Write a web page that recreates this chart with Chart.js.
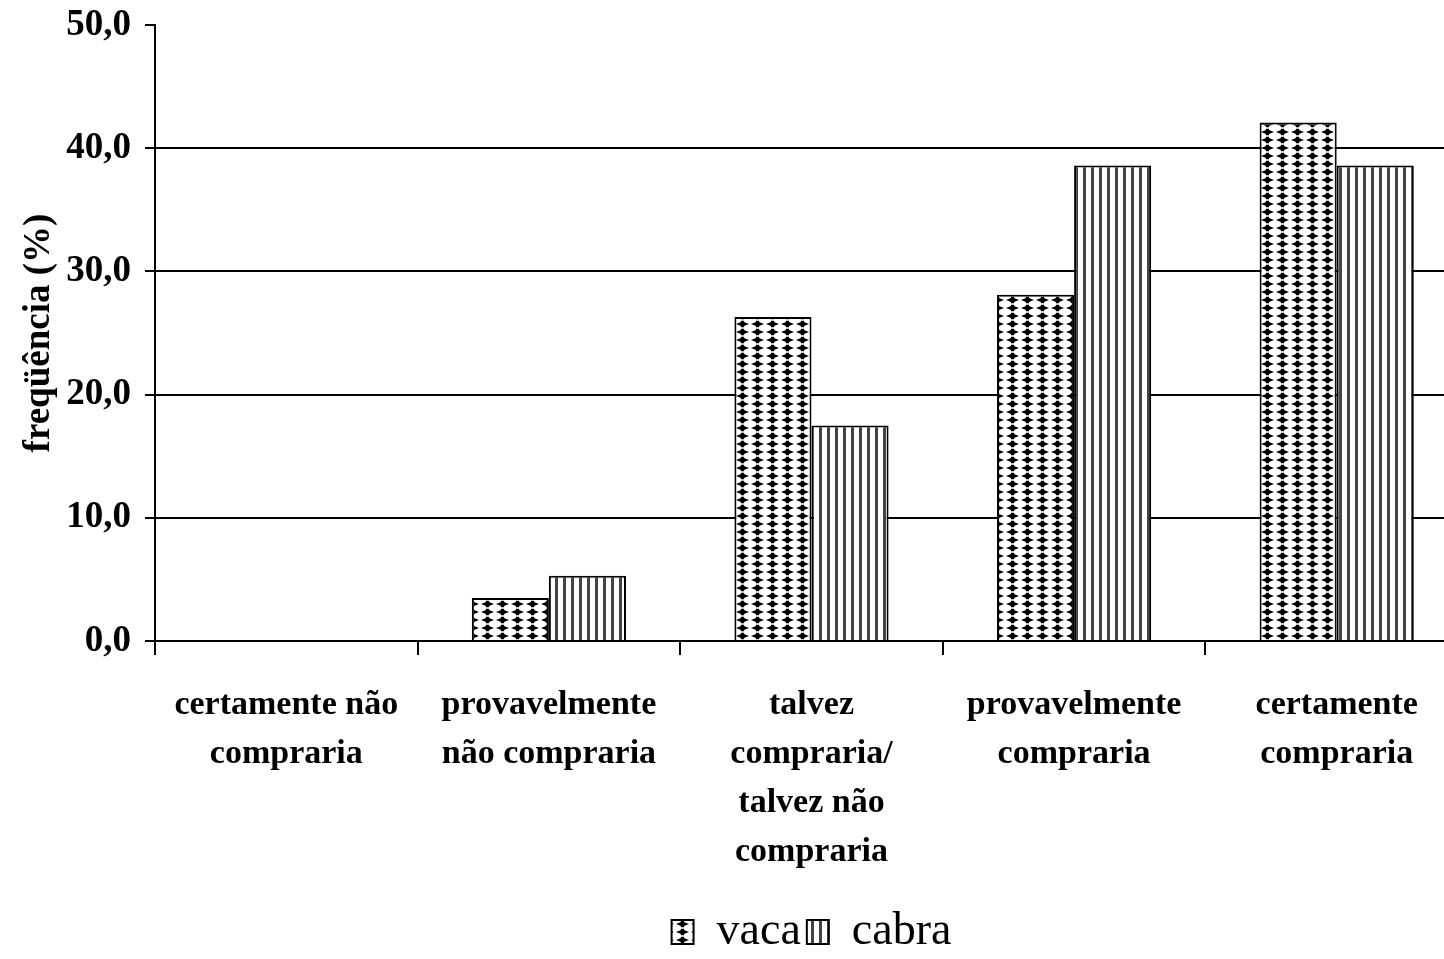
<!DOCTYPE html>
<html>
<head>
<meta charset="utf-8">
<script src="https://cdn.jsdelivr.net/npm/chart.js@4/dist/chart.umd.min.js"></script>
<style>
  html, body { margin: 0; padding: 0; background: #fff; overflow: hidden; }
  #wrap { width: 1444px; height: 959px; overflow: hidden; }
  canvas { display: block; }
</style>
</head>
<body>
<div id="wrap"><canvas id="c" width="1470" height="959"></canvas></div>
<script>
// Intenção de compra por tipo de leite (% de respostas)
const categories = [
  ['certamente não', 'compraria'],
  ['provavelmente', 'não compraria'],
  ['talvez', 'compraria/', 'talvez não', 'compraria'],
  ['provavelmente', 'compraria'],
  ['certamente', 'compraria']
];
const vaca = [0.0, 3.5, 26.3, 28.1, 42.1];
const cabra = [0.0, 5.3, 17.5, 38.6, 38.6];
const yTicks = [0, 10, 20, 30, 40, 50];

// Preenchimento em losangos (vaca)
function diamondPattern(ctx) {
  const t = document.createElement('canvas');
  t.width = 15; t.height = 8;
  const g = t.getContext('2d');
  g.fillStyle = '#fff';
  g.fillRect(0, 0, 15, 8);
  g.fillStyle = '#000';
  g.beginPath();
  g.moveTo(1, 4);
  g.lineTo(5.5, 2.2);
  g.lineTo(6.2, 0.7);
  g.lineTo(8.8, 0.7);
  g.lineTo(9.5, 2.2);
  g.lineTo(14, 4);
  g.lineTo(9.5, 5.8);
  g.lineTo(8.8, 7.3);
  g.lineTo(6.2, 7.3);
  g.lineTo(5.5, 5.8);
  g.closePath();
  g.fill();
  return ctx.createPattern(t, 'repeat');
}

// Preenchimento em linhas verticais (cabra)
function stripePattern(ctx) {
  const t = document.createElement('canvas');
  t.width = 8; t.height = 8;
  const g = t.getContext('2d');
  g.fillStyle = '#fff';
  g.fillRect(0, 0, 8, 8);
  g.fillStyle = '#444';
  g.fillRect(3, 0, 3, 8);
  return ctx.createPattern(t, 'repeat');
}

// Centraliza a legenda sob a área do gráfico
const legendShift = {
  id: 'legendShift',
  afterLayout(chart) {
    const lg = chart.legend;
    const area = chart.chartArea;
    const dx = (area.left + area.right) / 2 - (lg.left + lg.right) / 2;
    lg.left += dx;
    lg.right += dx;
    lg.top += 6;
    lg.bottom += 6;
  }
};

const canvas = document.getElementById('c');
const ctx = canvas.getContext('2d');
const serif = "'Liberation Serif', 'Times New Roman', serif";

new Chart(ctx, {
  type: 'bar',
  data: {
    labels: categories,
    datasets: [
      {
        label: 'vaca',
        data: vaca,
        backgroundColor: diamondPattern(ctx),
        borderColor: '#000',
        borderWidth: 2,
        borderSkipped: 'bottom'
      },
      {
        label: 'cabra',
        data: cabra,
        backgroundColor: stripePattern(ctx),
        borderColor: '#000',
        borderWidth: 2,
        borderSkipped: 'bottom'
      }
    ]
  },
  plugins: [legendShift],
  options: {
    responsive: false,
    animation: false,
    devicePixelRatio: 1,
    layout: { padding: { top: 25, right: 2, left: 0, bottom: 0 } },
    datasets: {
      bar: { categoryPercentage: 0.587, barPercentage: 1.0 }
    },
    plugins: {
      tooltip: { enabled: false },
      legend: {
        position: 'bottom',
        labels: {
          color: '#000',
          font: { family: serif, size: 46, weight: 'normal' },
          boxWidth: 22,
          boxHeight: 24,
          padding: 6
        }
      }
    },
    scales: {
      x: {
        grid: {
          offset: true,
          drawOnChartArea: false,
          drawTicks: true,
          tickLength: 14,
          color: '#000',
          lineWidth: 2
        },
        border: { display: true, color: '#000', width: 2 },
        ticks: {
          color: '#000',
          font: { family: serif, size: 34, weight: 'bold', lineHeight: 1.44 },
          padding: 26,
          maxRotation: 0,
          autoSkip: false
        },
        afterFit(scale) { scale.height = 256; }
      },
      y: {
        min: 0,
        max: 50,
        afterBuildTicks(scale) { scale.ticks = yTicks.map(v => ({ value: v })); },
        grid: {
          color: c => (c.tick && c.tick.value === 50) ? 'rgba(0,0,0,0)' : '#000',
          tickColor: '#000',
          lineWidth: 2,
          tickLength: 10
        },
        border: { display: true, color: '#000', width: 2 },
        ticks: {
          color: '#000',
          font: { family: serif, size: 37, weight: 'bold', lineHeight: 0.6 },
          padding: 14,
          callback: v => v.toFixed(1).replace('.', ',')
        },
        title: {
          display: true,
          text: 'freqüência (%)',
          color: '#000',
          font: { family: serif, size: 37, weight: 'bold' },
          padding: { top: 17, bottom: 0 }
        },
        afterFit(scale) { scale.width = 155; }
      }
    }
  }
});
</script>
</body>
</html>
